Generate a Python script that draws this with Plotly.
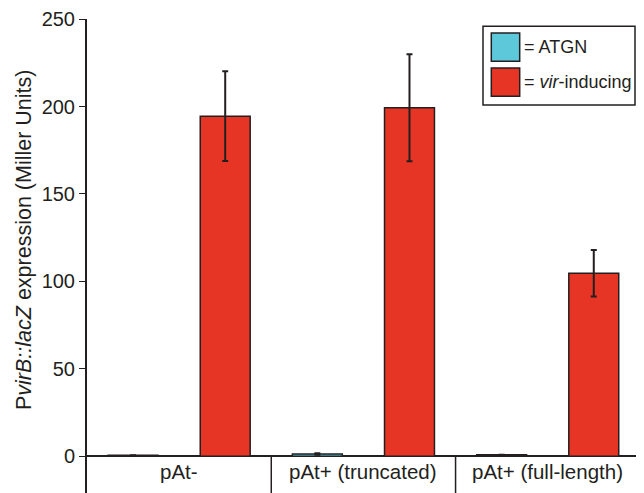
import plotly.graph_objects as go

categories = ["pAt-", "pAt+ (truncated)", "pAt+ (full-length)"]
atgn_values = [0.5, 1.3, 0.8]
atgn_errors = [0.0, 0.4, 0.0]
vir_values = [194.5, 199.3, 104.7]
vir_errors = [25.7, 30.6, 13.3]
series_names = ["ATGN", "<i>vir</i>-inducing"]
y_ticks = [0, 50, 100, 150, 200, 250]

BLUE = "#5CC8DA"
RED = "#E73525"
DARK = "#231F20"
FONT = "Liberation Sans, Arial, Helvetica, sans-serif"

W, H = 644, 493
ML, MR, MT, MB = 79, 0, 11, 0
pw, ph = W - ML - MR, H - MT - MB

def px(x):
    return (x - ML) / pw

def py(y):
    return (H - MB - y) / ph

xs = list(range(len(categories)))
y_lo, y_hi = -25.6, 250.05
x_hi = 2.566

fig = go.Figure()
fig.add_trace(go.Bar(
    x=xs, y=atgn_values, name=series_names[0],
    marker=dict(color=BLUE, line=dict(color=DARK, width=1.5)),
    error_y=dict(type="data", array=atgn_errors, color=DARK, thickness=2, width=3),
    showlegend=False,
))
fig.add_trace(go.Bar(
    x=xs, y=vir_values, name=series_names[1],
    marker=dict(color=RED, line=dict(color=DARK, width=1.5)),
    error_y=dict(type="data", array=vir_errors, color=DARK, thickness=2, width=3),
    showlegend=False,
))

shapes = []
for i in range(len(categories) - 1):
    shapes.append(dict(type="line", xref="x", yref="y", x0=i + 0.5, x1=i + 0.5,
                       y0=y_lo, y1=0, line=dict(color=DARK, width=1.5)))

annotations = []
for i, c in enumerate(categories):
    annotations.append(dict(x=i, y=-8.6, xref="x", yref="y", text=c, showarrow=False,
                            xanchor="center", yanchor="middle",
                            font=dict(family=FONT, size=20.5, color=DARK)))

annotations.append(dict(x=px(16), y=py(232), xref="paper", yref="paper",
                        text="P<i>virB::lacZ</i> expression (Miller Units)",
                        textangle=-90, showarrow=False, xanchor="center", yanchor="middle",
                        font=dict(family=FONT, size=21.5, color=DARK)))

shapes.append(dict(type="rect", xref="paper", yref="paper",
                   x0=px(475), x1=px(627), y0=py(97), y1=py(18.3),
                   line=dict(color=DARK, width=1.5), fillcolor="white", layer="above"))
legend_rows = [(BLUE, series_names[0], 25, 53.3), (RED, series_names[1], 60, 88.3)]
for color, name, t, b in legend_rows:
    shapes.append(dict(type="rect", xref="paper", yref="paper",
                       x0=px(483.3), x1=px(511.7), y0=py(b), y1=py(t),
                       line=dict(color=DARK, width=1.5), fillcolor=color, layer="above"))
    annotations.append(dict(x=px(514), y=py((t + b) / 2), xref="paper", yref="paper",
                            text="= " + name, showarrow=False, xanchor="left", yanchor="middle",
                            font=dict(family=FONT, size=18, color=DARK)))

fig.update_layout(
    width=W, height=H,
    margin=dict(l=ML, r=MR, t=MT, b=MB, pad=0),
    paper_bgcolor="white", plot_bgcolor="white",
    barmode="group", bargap=0, bargroupgap=0.458,
    font=dict(family=FONT, color=DARK),
    shapes=shapes, annotations=annotations,
    xaxis=dict(range=[-0.5, x_hi], showticklabels=False, showgrid=False, zeroline=False,
               showline=False, ticks="", fixedrange=True),
    yaxis=dict(range=[y_lo, y_hi], tickvals=y_ticks, ticks="outside", ticklen=6,
               tickwidth=1, tickcolor=DARK, showline=True, linecolor=DARK, linewidth=2,
               showgrid=False, zeroline=True, zerolinecolor=DARK, zerolinewidth=1.5,
               tickfont=dict(family=FONT, size=20, color=DARK)),
)

fig.write_html("out.html")
